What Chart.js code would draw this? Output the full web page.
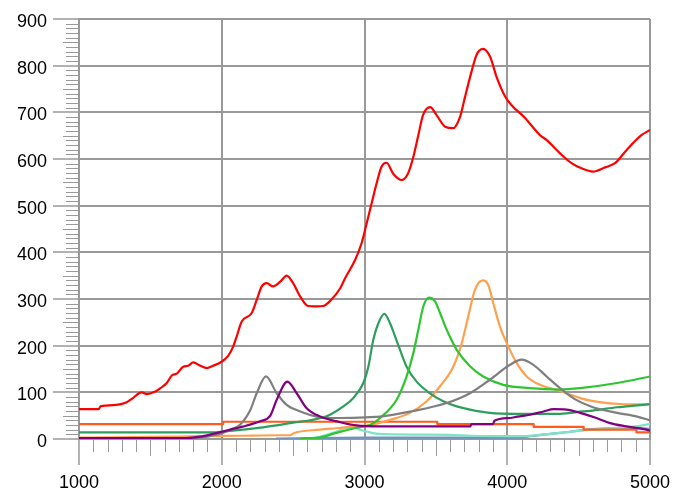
<!DOCTYPE html>
<html><head><meta charset="utf-8">
<script src="https://cdn.jsdelivr.net/npm/chart.js@4"></script>
<style>html,body{margin:0;padding:0;background:#fff}canvas{display:block}</style>
</head><body>
<canvas id="c" width="683" height="490"></canvas>
<script>
// ---- data ----
const redX = [1000,1140,1150,1260,1330,1370,1440,1475,1530,1570,1615,1650,1685,1730,1765,1800,1850,1895,1940,1990,2045,2080,2105,2140,2210,2245,2280,2315,2360,2410,2455,2500,2550,2605,2660,2710,2760,2830,2865,2935,2980,3015,3050,3085,3120,3155,3200,3260,3305,3340,3375,3410,3460,3505,3565,3620,3670,3705,3740,3785,3830,3880,3925,3985,4040,4115,4230,4275,4370,4450,4520,4600,4685,4755,4835,4940,5000];
const redY = [64,64,70,73,78,86,100,96,101,109,120,136,140,155,157,164,157,152,157,164,178,198,220,252,270,298,327,334,327,337,350,334,305,285,284,285,296,323,345,384,420,462,505,548,584,592,569,555,569,602,648,694,711,694,669,666,691,734,776,823,836,819,776,734,712,691,651,641,612,591,580,573,582,591,619,651,662];

const purpleX = [1000,1750,1850,1940,2060,2175,2270,2340,2385,2460,2525,2595,2690,2830,2945,3100,3740,3750,3900,3910,4020,4070,4160,4255,4325,4415,4510,4625,4720,4835,4955,5000];
const purpleY = [2,2,5,11,20,29,38,50,84,123,98,66,48,36,29,27,27,32,32,39,45,48,52,59,64,63,56,45,34,27,21,18];

const grayX = [1000,1760,1820,1965,2060,2130,2200,2245,2310,2385,2455,2550,2665,2758,3109,3342,3576,3739,3879,4019,4101,4183,4276,4369,4470,4600,4770,4910,5000];
const grayY = [1,1,2,9,20,31,62,98,134,98,73,59,48,45,48,60,77,98,127,159,170,159,134,109,86,68,56,48,40];

const limeX = [2550,2700,2790,2945,3040,3109,3225,3295,3342,3377,3412,3452,3494,3529,3576,3646,3739,3832,3972,4159,4369,4510,4770,5000];
const limeY = [1,4,12,24,30,45,84,134,184,234,284,303,295,270,234,191,156,134,116,109,106,109,120,134];

const seaX = [1000,1950,2010,2290,2480,2710,2758,2852,2922,2992,3027,3062,3097,3139,3179,3214,3249,3295,3365,3459,3552,3646,3739,3879,4066,4369,4530,4600,4770,4950,5000];
const seaY = [14,14,16,25,34,46,52,70,88,120,155,213,248,268,248,220,191,155,123,98,81,70,63,56,54,54,59,61,68,73,75];

const sandX = [1000,1700,1850,2130,2380,2480,2500,2690,2800,2945,3040,3179,3319,3435,3529,3622,3681,3727,3774,3828,3867,3902,3949,4008,4066,4136,4229,4369,4530,4650,4790,5000];
const sandY = [3,5,6,7,8,8,12,20,23,27,30,41,56,81,113,155,205,263,320,340,330,291,241,198,163,134,116,103,86,79,75,74];

const orangeRedX = [1000,2010,3510,4185,4535,4905,5000];
const orangeRedY = [32,37,32,26,20,14,14];

const aquaX = [2650,2735,2805,2875,2930,2970,3015,3100,3600,3750,4100,4200,4370,4600,4900,5000];
const aquaY = [2,9,16,24,24,20,16,11,9,7,6,8,13,20,27,32];

const blueX = [2380,3000,4090,4160,4370,4600,4840,5000];
const blueY = [1,3,3,6,13,21,24,22];

const xMin = 1000, xMax = 5000, xStep = 1000, xMinorStep = 100;
const yMin = 0, yMax = 900, yStep = 100, yMinorStep = 10;

// ---- chart ----
function pts(xs, ys) { return xs.map((x, i) => ({ x: x, y: ys[i] })); }
const GRID = '#999999';

function line(xs, ys, color, extra) {
  return Object.assign({
    data: pts(xs, ys), borderColor: color, borderWidth: 2.2, pointRadius: 0,
    fill: false, cubicInterpolationMode: 'monotone', borderJoinStyle: 'round'
  }, extra || {});
}

const minorTicks = {
  id: 'minorTicks',
  beforeDatasetsDraw(chart) {
    const ctx = chart.ctx, xs = chart.scales.x, ys = chart.scales.y, a = chart.chartArea;
    ctx.save();
    ctx.strokeStyle = GRID;
    ctx.lineWidth = 1;
    for (let v = yMin; v <= yMax; v += yMinorStep) {
      if (v % yStep === 0) continue;
      const py = Math.round(ys.getPixelForValue(v)) + 0.5;
      const len = (v % 50 === 0) ? 16 : 13;
      ctx.beginPath(); ctx.moveTo(a.left - len, py); ctx.lineTo(a.left, py); ctx.stroke();
    }
    for (let v = xMin; v <= xMax; v += xMinorStep) {
      if (v % xStep === 0) continue;
      const px = Math.round(xs.getPixelForValue(v)) + 0.5;
      const len = (v % 500 === 0) ? 17 : 13;
      ctx.beginPath(); ctx.moveTo(px, a.bottom); ctx.lineTo(px, a.bottom + len); ctx.stroke();
    }
    ctx.restore();
  }
};

new Chart(document.getElementById('c'), {
  type: 'line',
  data: {
    datasets: [
      line(redX, redY, '#ff0000'),
      line(purpleX, purpleY, '#800080'),
      line(grayX, grayY, '#7f7f7f'),
      line(limeX, limeY, '#2fc52f'),
      line(seaX, seaY, '#2e9e5c'),
      line(sandX, sandY, '#ffa04e'),
      line(orangeRedX, orangeRedY, '#ff5c1c', { stepped: 'before' }),
      line(aquaX, aquaY, '#7fe3c6'),
      line(blueX, blueY, '#6f93bf')
    ]
  },
  options: {
    responsive: false,
    animation: false,
    layout: { padding: { left: 0, top: 19, right: 33, bottom: 0 } },
    plugins: { legend: { display: false }, tooltip: { enabled: false } },
    scales: {
      x: {
        type: 'linear', min: xMin, max: xMax,
        afterFit(s) { s.height = 51; },
        ticks: { stepSize: xStep, autoSkip: false, maxRotation: 0, padding: 7,
                 color: '#000', font: { family: 'Liberation Sans, Arial, sans-serif', size: 18 },
                 callback: v => String(v) },
        grid: { color: GRID, lineWidth: 2, tickLength: 26, tickColor: GRID, tickWidth: 1.5 },
        border: { color: GRID, width: 2 }
      },
      y: {
        type: 'linear', min: yMin, max: yMax,
        afterFit(s) { s.width = 79; },
        ticks: { stepSize: yStep, autoSkip: false, padding: 6, labelOffset: 3,
                 color: '#000', font: { family: 'Liberation Sans, Arial, sans-serif', size: 18 },
                 callback: v => String(v) },
        grid: { color: GRID, lineWidth: 2, tickLength: 26, tickColor: GRID, tickWidth: 1.5 },
        border: { color: GRID, width: 2 }
      }
    }
  },
  plugins: [minorTicks]
});
</script>
</body></html>
